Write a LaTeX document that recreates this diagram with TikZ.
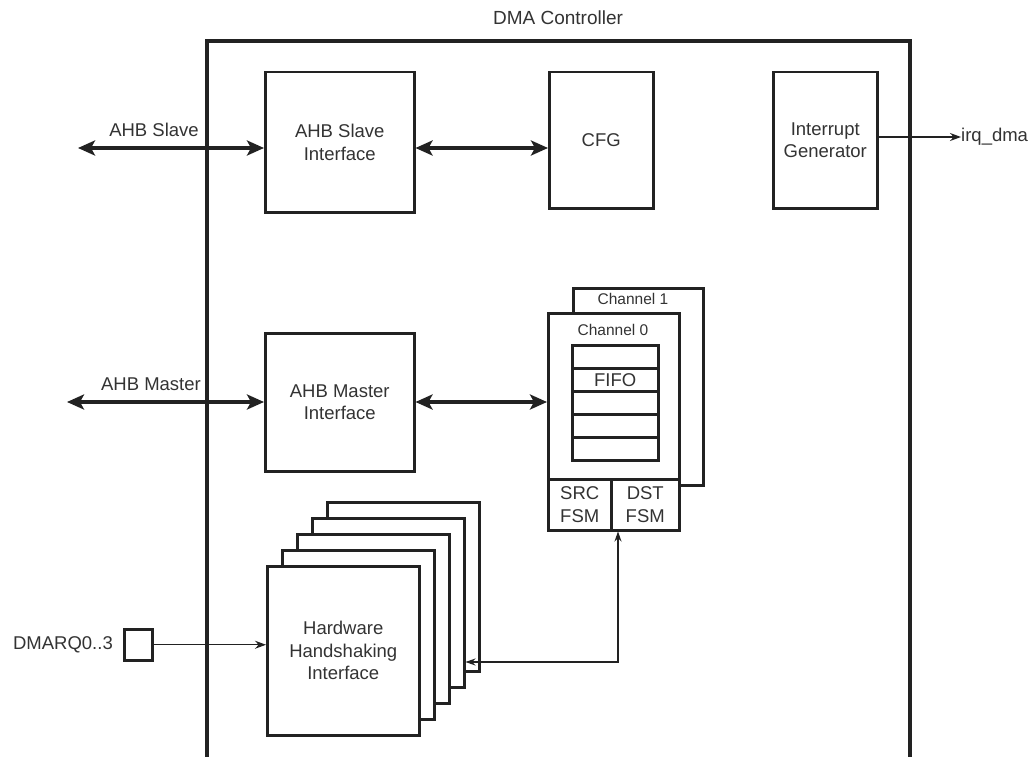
\documentclass[tikz,border=0pt]{standalone}
\usepackage{fontspec}
\setmainfont{Liberation Sans}
\usetikzlibrary{arrows.meta}
\definecolor{ink}{RGB}{34,34,34}
\definecolor{txt}{RGB}{51,51,51}
\begin{document}
\begin{tikzpicture}[x=1pt,y=-1pt,
  lbl/.style={inner sep=0pt, text=txt, font=\fontsize{18.5}{22.5}\selectfont, align=center},
  small/.style={inner sep=0pt, text=txt, font=\fontsize{15.5}{18}\selectfont},
  blk/.style={draw=ink, line width=2.5pt, fill=white, inner sep=0pt, align=center,
    font=\fontsize{18.5}{22.5}\selectfont, text=txt, anchor=north west},
  bus/.style={draw=ink, line width=4pt,
    {Stealth[length=17pt,width=15pt,inset=4pt]}-{Stealth[length=17pt,width=15pt,inset=4pt]}},
  sig/.style={draw=ink, line width=1.1pt, -{Stealth[length=11pt,width=8pt]}},
  sigb/.style={draw=ink, line width=1.1pt, {Stealth[length=10pt,width=7pt]}-{Stealth[length=10pt,width=7pt]}}
]
\useasboundingbox (0,0) rectangle (1031,757);
\fill[white] (0,0) rectangle (1031,757);

% outer controller
\node[lbl, font=\fontsize{19}{22}\selectfont] (title) at (558,18) {DMA Controller};
\draw[ink, line width=4pt, line join=miter] (207,757) -- (207,41) -- (910,41) -- (910,757);

% top row
\node[blk, minimum width=149pt, minimum height=140pt] (slave) at (264,71) {AHB Slave\\Interface};
\node[blk, minimum width=104pt, minimum height=136pt] (cfg) at (548,71) {CFG};
\node[blk, minimum width=104pt, minimum height=136pt] (int) at (772,71) {Interrupt\\Generator};

% master interface
\node[blk, minimum width=149pt, minimum height=138pt] (master) at (264,332) {AHB Master\\Interface};

% channels
\node[blk, minimum width=130pt, minimum height=197pt] (ch1) at (572,287) {};
\node[small] (ch1lbl) at (633,299) {Channel 1};
\node[blk, minimum width=131pt, minimum height=217pt] (ch0) at (547,312) {};
\node[small] (ch0lbl) at (613,330) {Channel 0};
\node[blk, minimum width=86pt, minimum height=23pt] (f0) at (571,344) {};
\node[blk, minimum width=86pt, minimum height=23pt] (f1) at (571,367) {FIFO};
\node[blk, minimum width=86pt, minimum height=23pt] (f2) at (571,390) {};
\node[blk, minimum width=86pt, minimum height=23pt] (f3) at (571,413) {};
\node[blk, minimum width=86pt, minimum height=23pt] (f4) at (571,436) {};
\node[blk, minimum width=63pt, minimum height=51pt] (src) at (547,478) {SRC\\FSM};
\node[blk, minimum width=68pt, minimum height=51pt] (dst) at (610,478) {DST\\FSM};

% hardware handshaking stack
\node[blk, minimum width=152pt, minimum height=169pt] (hw4) at (326,501) {};
\node[blk, minimum width=152pt, minimum height=169pt] (hw3) at (311,517) {};
\node[blk, minimum width=152pt, minimum height=169pt] (hw2) at (296,533) {};
\node[blk, minimum width=152pt, minimum height=169pt] (hw1) at (281,549) {};
\node[blk, minimum width=152pt, minimum height=169pt] (hw0) at (266,565) {Hardware\\Handshaking\\Interface};

% bus connections
\node[lbl] (slavelbl) at (154,130) {AHB Slave};
\coordinate (sl) at (78,148);
\draw[bus] (sl) -- (sl -| slave.west);
\draw[bus] (slave.east |- sl) -- (cfg.west |- sl);

\node[lbl] (masterlbl) at (151,384) {AHB Master};
\coordinate (ml) at (67,402);
\draw[bus] (ml) -- (ml -| master.west);
\draw[bus] (master.east |- ml) -- (ch0.west |- ml);

% interrupt output
\node[lbl, anchor=west] (irq) at (961,137) {irq\_dma};
\coordinate (irqs) at (876,137);
\draw[sig] (irqs -| int.east) -- (irq.west);

% DMA request input
\node[draw=ink, line width=2.5pt, fill=white, minimum width=28pt, minimum height=31pt, inner sep=0pt, anchor=north west] (req) at (123,628) {};
\node[lbl, anchor=east] (reqlbl) at (113,645) {DMARQ0..3};
\draw[sig] (req.east) -- (req.east -| hw0.west);

% handshake to DST FSM
\coordinate (corner) at (618,662);
\draw[sigb] (hw3.east |- corner) -- (corner) -- (corner |- dst.south);
\end{tikzpicture}
\end{document}
